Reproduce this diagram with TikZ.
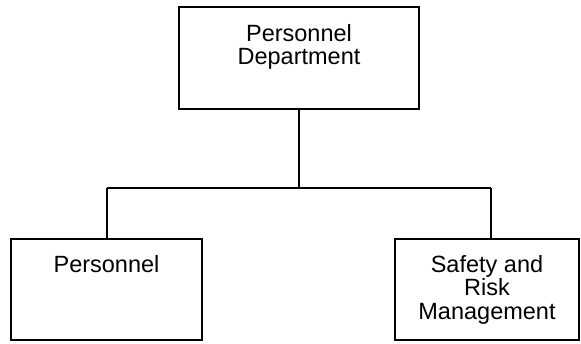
\documentclass[tikz,border=0pt]{standalone}
\usepackage{fontspec}
\setmainfont{Liberation Sans}
\begin{document}
\begin{tikzpicture}[x=1pt,y=1pt,
  box/.style={draw=black, line width=1.4pt, rectangle, inner sep=0pt},
  lbl/.style={anchor=north, inner sep=0pt, align=center, font=\fontsize{23.5}{23.5}\selectfont},
  conn/.style={draw=black, line width=1.4pt}]
\useasboundingbox (0,0) rectangle (581,-343);
\node[box, minimum width=240pt, minimum height=102pt] (top) at (299,-58) {};
\node[lbl] (toptext) at ([yshift=-17.5pt]top.north) {Personnel\\Department};
\node[box, minimum width=191pt, minimum height=101pt] (left) at (106.5,-289.5) {};
\node[lbl] (lefttext) at ([yshift=-16.5pt]left.north) {Personnel};
\node[box, minimum width=184pt, minimum height=101pt] (right) at (487,-289.5) {};
\node[lbl] (righttext) at ([yshift=-16.5pt]right.north) {Safety and\\Risk\\Management};
\coordinate (jl) at (107,-188);
\coordinate (jr) at (491,-188);
\draw[conn] (top.south) -- (top.south |- jl);
\draw[conn] (jl) -- (jr);
\draw[conn] (jl) -- (jl |- left.north);
\draw[conn] (jr) -- (jr |- right.north);
\end{tikzpicture}
\end{document}
